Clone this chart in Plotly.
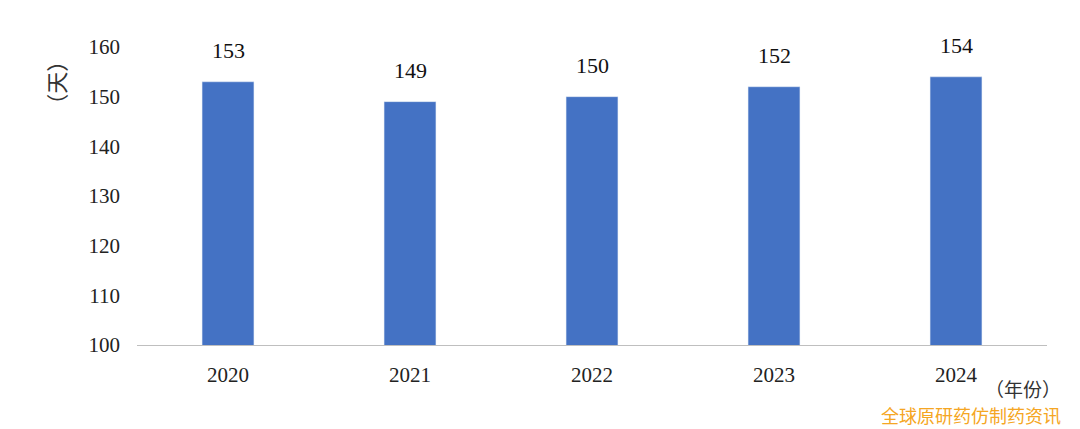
import plotly.graph_objects as go

years = ['2020', '2021', '2022', '2023', '2024']
days = [153, 149, 150, 152, 154]

font_serif = 'Liberation Serif, Times New Roman, serif'

fig = go.Figure()
fig.add_trace(go.Bar(x=years, y=days, marker_color='#4472C4', width=0.285))

# value labels above bars (category index used for x)
for i, v in enumerate(days):
    fig.add_annotation(x=i, y=v, text=str(v), showarrow=False, yanchor='bottom',
                       yshift=17, font=dict(size=22, color='#111111', family=font_serif))

# page body adds an 8px offset, so margins are shifted to compensate
fig.update_layout(
    width=1080, height=429,
    margin=dict(l=129, r=41, t=39, b=92, autoexpand=False),
    plot_bgcolor='white', paper_bgcolor='white',
    showlegend=False,
    font=dict(family=font_serif, size=21, color='#222222'),
)
fig.update_xaxes(type='category', range=[-0.5, 4.5], showline=True, linecolor='#bfbfbf',
                 linewidth=1, ticks='', tickfont=dict(size=21), showgrid=False,
                 automargin=False, ticklabelstandoff=11)
fig.update_yaxes(range=[100, 160], dtick=10, showgrid=False, zeroline=False,
                 showline=False, tickfont=dict(size=21), ticklabelstandoff=16,
                 automargin=False)

fig.add_annotation(text='（天）', textangle=-90, xref='paper', yref='paper',
                   x=-0.09, y=0.88, xanchor='center', yanchor='middle', showarrow=False,
                   font=dict(size=22, color='#333333', family='Noto Sans CJK SC'))
fig.add_annotation(text='（年份）', xref='paper', yref='paper',
                   x=1.016, y=-0.146, xanchor='right', yanchor='middle', showarrow=False,
                   borderpad=0, font=dict(size=19, color='#333333', family='Noto Sans CJK SC'))
fig.add_annotation(text='全球原研药仿制药资讯', xref='paper', yref='paper',
                   x=1.017, y=-0.235, xanchor='right', yanchor='middle', showarrow=False,
                   borderpad=0, font=dict(size=18, color='#F5A623', family='Noto Sans CJK SC'))

fig.write_html('out.html')
